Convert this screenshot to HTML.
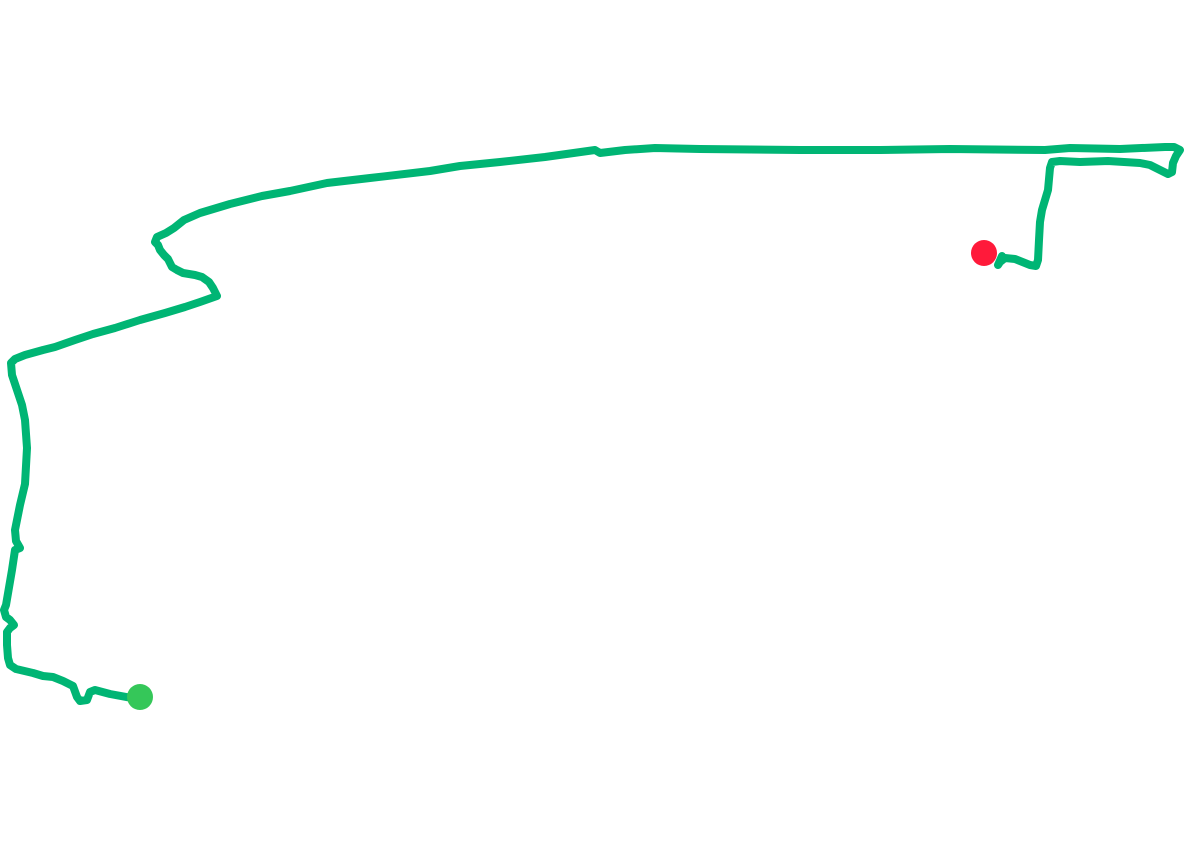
<!DOCTYPE html>
<html><head><style>html,body{margin:0;padding:0;background:#fff;width:1185px;height:854px;overflow:hidden}</style></head>
<body>
<svg width="1185" height="854" viewBox="0 0 1185 854">
<polyline fill="none" stroke="#00b574" stroke-width="8" stroke-linejoin="round" stroke-linecap="round" points="
145,700 132,698 110,694 95,690 90,692 87,700 80,701 77,697 73,686 63,681 53,677 43,676 33,673 16,669 10,665 8,658 7,645 7,632 10,628 14,625 10,620 6,617 4,610 6,605 12,570 15,550 20,548 16,541 15,530 20,505 25,484 27,448 25,420 22,405 17,390 12,375 11,363 15,359 25,355 43,350 55,347 75,340 93,334 115,328 140,320 165,313 185,307 200,302 217,296 213,288 209,282 202,277 195,275 183,273 177,270 172,267 168,259 164,255 160,250 158,245 155,242 157,237 166,233 174,228 184,220 200,213 230,204 262,196 290,191 327,183 370,178 430,171 460,166 500,162 545,157 595,150 600,153 625,150 655,148 700,149 800,150 880,150 950,149 1045,150 1070,148 1120,149 1165,147 1174,147 1180,150 1176,156 1173,163 1172,172 1168,174 1160,170 1150,165 1140,163 1108,161 1080,162 1060,161 1052,162 1050,168 1048,190 1042,210 1040,222 1039,240 1038,260 1036,266 1030,265 1015,259 1005,258 1000,262 998,265 1002,256"/>
<circle cx="140" cy="697" r="13" fill="#35c759"/>
<circle cx="984" cy="253" r="13" fill="#ff1a3a"/>
</svg>
</body></html>
